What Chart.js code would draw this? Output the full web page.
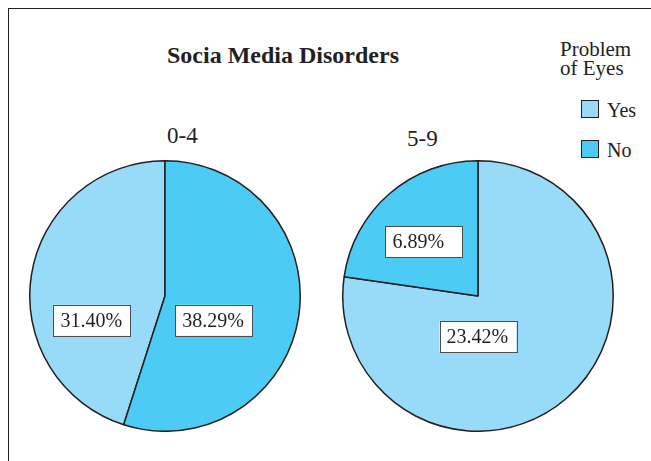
<!DOCTYPE html>
<html>
<head>
<meta charset="utf-8">
<script src="https://cdn.jsdelivr.net/npm/chart.js@4.4.1/dist/chart.umd.min.js"></script>
<style>
  body { margin: 0; width: 651px; height: 461px; background: #fff; position: relative; overflow: hidden;
         font-family: "Liberation Serif", "Times New Roman", serif; color: #231f20; }
  .frame { position: absolute; left: 8px; top: 8px; right: -2px; bottom: -2px;
           border-top: 1.5px solid #231f20; border-left: 1.5px solid #231f20; }
  .txt { position: absolute; white-space: nowrap; line-height: 1; }
  #title { left: 167px; top: 43px; font-size: 24px; font-weight: bold; }
  .sub { font-size: 23px; }
  #legend { position: absolute; left: 560px; top: 40px; font-size: 21px; line-height: 19px; }
  .key { position: absolute; left: 21px; width: 16px; height: 16px; border: 1.2px solid #231f20; }
  .keylab { position: absolute; left: 47px; font-size: 20px; line-height: 1; }
  canvas { position: absolute; }
</style>
</head>
<body>
<div class="frame"></div>
<div id="title" class="txt">Socia Media Disorders</div>
<div id="sub0" class="txt sub" style="left:167px;top:124px;"></div>
<div id="sub1" class="txt sub" style="left:407px;top:127px;"></div>
<div id="legend">
  <div id="legTitle">Problem<br>of Eyes</div>
</div>
<div style="position:absolute;left:342px;top:160px;width:272px;height:272px;"><canvas id="pie1"></canvas></div>
<div style="position:absolute;left:29px;top:160px;width:272px;height:272px;"><canvas id="pie0"></canvas></div>

<script>
const ageGroups = ["0-4", "5-9"];
const answers = ["Yes", "No"];
const yesValues = [31.40, 23.42];
const noValues = [38.29, 6.89];

const colors = { Yes: "#97dbf8", No: "#4ccbf4" };

// legend
const legend = document.getElementById("legend");
answers.forEach((a, i) => {
  const box = document.createElement("div");
  box.className = "key";
  box.style.top = (60 + i * 40) + "px";
  box.style.background = colors[a];
  legend.appendChild(box);
  const lab = document.createElement("div");
  lab.className = "keylab";
  lab.style.top = (60 + i * 40) + "px";
  lab.textContent = a;
  legend.appendChild(lab);
});

// label boxes, offsets in units of the pie radius
const boxLabels = {
  id: "boxLabels",
  afterDatasetsDraw(chart, args, opts) {
    const ctx = chart.ctx;
    const meta = chart.getDatasetMeta(0);
    const arc = meta.data[0];
    const r = arc.outerRadius;
    ctx.save();
    ctx.font = "20px 'Liberation Serif'";
    ctx.textBaseline = "middle";
    meta.data.forEach((el, i) => {
      const off = opts.offsets[i];
      const cx = arc.x + off[0] * r;
      const cy = arc.y + off[1] * r;
      const w = 77, h = 31;
      ctx.fillStyle = "#fff";
      ctx.fillRect(cx - w / 2, cy - h / 2, w, h);
      ctx.strokeStyle = "#4d4d4f";
      ctx.lineWidth = 1;
      ctx.strokeRect(Math.round(cx - w / 2) + 0.5, Math.round(cy - h / 2) + 0.5, w, h);
      ctx.fillStyle = "#231f20";
      const v = chart.data.datasets[0].data[i];
      ctx.fillText(v.toFixed(2) + "%", cx - w / 2 + 7, cy + 1);
    });
    ctx.restore();
  }
};

function makePie(id, idx, offsets) {
  const data = [yesValues[idx], noValues[idx]];
  const total = data[0] + data[1];
  document.getElementById("sub" + idx).textContent = ageGroups[idx];
  new Chart(document.getElementById(id), {
    type: "pie",
    data: {
      labels: answers,
      datasets: [{
        data: data,
        backgroundColor: answers.map(a => colors[a]),
        borderColor: "#231f20",
        borderWidth: 1.5
      }]
    },
    options: {
      responsive: true,
      maintainAspectRatio: false,
      animation: false,
      events: [],
      // "No" slice starts at 12 o'clock going clockwise in the first pie
      rotation: idx === 0 ? 360 * noValues[idx] / total : 0,
      plugins: {
        legend: { display: false },
        tooltip: { enabled: false },
        boxLabels: { offsets: offsets }
      }
    },
    plugins: [boxLabels]
  });
}

makePie("pie0", 0, [[-0.54, 0.18], [0.36, 0.18]]);
makePie("pie1", 1, [[0.0, 0.30], [-0.40, -0.40]]);
</script>
</body>
</html>
